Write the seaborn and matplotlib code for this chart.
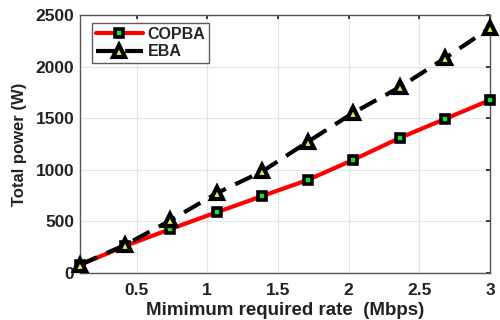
import matplotlib
matplotlib.use("Agg")
import matplotlib.pyplot as plt
import seaborn as sns
import pandas as pd

rates = [0.1, 0.42, 0.74, 1.07, 1.39, 1.71, 2.03, 2.36, 2.68, 3.0]
copba = [78, 262, 426, 590, 746, 901, 1095, 1308, 1492, 1676]
eba = [80, 272, 510, 775, 985, 1270, 1550, 1800, 2080, 2375]
xticks = [0.5, 1, 1.5, 2, 2.5, 3]
yticks = [0, 500, 1000, 1500, 2000, 2500]

sns.set_theme(style="whitegrid")
plt.rcParams['font.family'] = ['Liberation Sans', 'DejaVu Sans']

df = pd.DataFrame({"rate": rates * 2,
                   "power": copba + eba,
                   "alg": ["COPBA"] * len(rates) + ["EBA"] * len(rates)})

fig = plt.figure(figsize=(5, 3.2), dpi=100)
ax = fig.add_axes([0.16, 0.147, 0.82, 0.806])

sns.lineplot(data=df[df.alg == "COPBA"], x="rate", y="power", ax=ax,
             color="red", lw=3, marker="s", markersize=5.5,
             markerfacecolor="#22dd22", markeredgecolor="black",
             markeredgewidth=2.6, label="COPBA", clip_on=False, zorder=3)
sns.lineplot(data=df[df.alg == "EBA"], x="rate", y="power", ax=ax,
             color="black", lw=3, marker="^", markersize=9,
             markerfacecolor="#e8e855", markeredgecolor="black",
             markeredgewidth=3, label="EBA", clip_on=False, zorder=4)
ax.lines[1].set_linestyle((0, (4.5, 2.5)))

ax.set_xlim(0.1, 3)
ax.set_ylim(0, 2500)
ax.set_xticks(xticks)
ax.set_xticklabels(["0.5", "1", "1.5", "2", "2.5", "3"])
ax.set_yticks(yticks)
ax.set_yticklabels([str(v) for v in yticks])
ax.tick_params(labelsize=12.5, direction="in", length=3, top=True, right=True,
               colors="#222222")
ax.tick_params(axis="x", pad=7)
ax.tick_params(axis="y", pad=4)
for lab in ax.get_xticklabels() + ax.get_yticklabels():
    lab.set_fontweight("bold")
ax.grid(True, color="#e4e4e4", lw=0.8)
for s in ax.spines.values():
    s.set_color("#555555")
    s.set_linewidth(1.0)
ax.set_facecolor("white")

ax.set_xlabel("Mimimum required rate  (Mbps)", fontsize=13.5, fontweight="bold",
              color="#222222", labelpad=3)
ax.set_ylabel("Total power (W)", fontsize=12, fontweight="bold",
              color="#222222", labelpad=6)

leg = ax.legend(loc="upper left", bbox_to_anchor=(0.03, 0.97), frameon=True,
                fancybox=False, prop={"weight": "bold", "size": 11.5},
                handlelength=2.9, borderpad=0.25, labelspacing=0.15,
                handletextpad=0.3, borderaxespad=0)
leg.get_frame().set_edgecolor("#333333")
leg.get_frame().set_linewidth(1.0)

fig.savefig("out.png", dpi=100)
